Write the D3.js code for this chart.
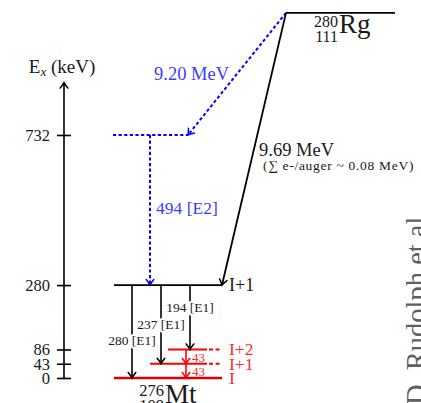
<!DOCTYPE html>
<html>
<head>
<meta charset="utf-8">
<script src="https://cdn.jsdelivr.net/npm/d3@7"></script>
<style>
body { margin: 0; background: #fff; }
text { font-family: "Liberation Serif", "Times New Roman", serif; }
</style>
</head>
<body>
<div id="chart"></div>
<script>
/* 280Rg -> 276Mt alpha decay level scheme */

// Energy axis ticks (keV)
var tickValues = [0, 43, 86, 280, 732];

// Levels in 276Mt (keV)
var blackLevelE = 280;
var blackLevelLabel = "I+1";
var bandLevelE = [86, 43, 0];
var bandLevelLabels = ["I+2", "I+1", "I"];
var e2LevelE = 732;

// Gamma transitions out of the 280 keV level
var gammaFrom = [280, 280, 280];
var gammaTo = [86, 43, 0];
var gammaLabels = ["194 [E1]", "237 [E1]", "280 [E1]"];

// 43 keV cascade inside the band
var cascadeFrom = [86, 43];
var cascadeTo = [43, 0];
var cascadeLabels = ["43", "43"];

// Alpha decays from the parent
var alphaMain = "9.69 MeV";
var alphaMainNote = "(\u2211 e-/auger ~ 0.08 MeV)";
var alphaSide = "9.20 MeV";
var e2Label = "494 [E2]";
var parentE = 1100; // parent ground state, placed schematically above 732

var W = 421, H = 403;
var svg = d3.select("#chart").append("svg")
    .attr("width", W).attr("height", H);

var y = d3.scaleLinear().domain([0, 732]).range([378, 135]);

// horizontal layout of the scheme
var axisX = 64,
    lvX0 = 114, lvX1 = 222,
    parX0 = 286, parX1 = 395,
    e2X0 = 113, e2X1 = 188, e2X = 150,
    gammaX = [190, 161, 132],
    bandX0 = [168, 150, 114], bandSolidEnd = 207,
    cascadeX = 186,
    labelX = 229;

var blue = "#0000ff", blueText = "#3c3cff", red = "#ff0000", redText = "#ff2a2a";

// arrow heads
var defs = svg.append("defs");
function marker(id, col) {
  defs.append("marker")
      .attr("id", id)
      .attr("viewBox", "-7 -5 9 10")
      .attr("refX", 0).attr("refY", 0)
      .attr("markerWidth", 9).attr("markerHeight", 10)
      .attr("markerUnits", "userSpaceOnUse")
      .attr("orient", "auto")
    .append("path")
      .attr("d", "M-5.5,-3.8 Q-2,-1 0,0 Q-2,1 -5.5,3.8")
      .attr("fill", "none")
      .attr("stroke", col)
      .attr("stroke-width", 1.5)
      .attr("stroke-linecap", "round");
}
marker("ak", "#000");
marker("ab", blue);
marker("ar", red);

// ---- energy axis
var axis = d3.axisLeft(y).tickValues(tickValues).tickSize(7).tickPadding(7);
var gAxis = svg.append("g")
    .attr("transform", "translate(" + axisX + ",0)")
    .call(axis);
gAxis.select(".domain").remove();
gAxis.selectAll(".tick line").attr("x1", 7).attr("stroke", "#000").attr("stroke-width", 1.6);
gAxis.selectAll(".tick text")
    .attr("font-family", "Liberation Serif, serif")
    .attr("font-size", 16.5)
    .attr("fill", "#1a1a1a");
gAxis.append("line")
    .attr("x1", 0).attr("x2", 0)
    .attr("y1", y(0)).attr("y2", y(890))
    .attr("stroke", "#000").attr("stroke-width", 1.6)
    .attr("marker-end", "url(#ak)");

var title = svg.append("text")
    .attr("x", axisX - 2).attr("y", 73)
    .attr("text-anchor", "middle")
    .attr("font-size", 19).attr("fill", "#1a1a1a");
title.append("tspan").text("E");
title.append("tspan").attr("font-size", 13).attr("font-style", "italic").attr("dy", 3).text("x");
title.append("tspan").attr("dy", -3).text(" (keV)");

// ---- parent level 280Rg
var yPar = y(parentE);
svg.append("line")
    .attr("x1", parX0).attr("x2", parX1)
    .attr("y1", yPar).attr("y2", yPar)
    .attr("stroke", "#000").attr("stroke-width", 1.8);
svg.append("text").attr("x", parX0 + 52).attr("y", yPar + 14)
    .attr("text-anchor", "end").attr("font-size", 16).attr("fill", "#1a1a1a").text("280");
svg.append("text").attr("x", parX0 + 52).attr("y", yPar + 29)
    .attr("text-anchor", "end").attr("font-size", 16).attr("fill", "#1a1a1a").text("111");
svg.append("text").attr("x", parX0 + 53).attr("y", yPar + 20)
    .attr("font-size", 27).attr("fill", "#1a1a1a").text("Rg");

// ---- alpha to the 732 keV level (blue, dotted)
var dots = "3.2,2.4";
svg.append("line")
    .attr("x1", parX0).attr("y1", yPar)
    .attr("x2", e2X1).attr("y2", y(e2LevelE))
    .attr("stroke", blue).attr("stroke-width", 2)
    .attr("stroke-dasharray", dots)
    .attr("marker-end", "url(#ab)");
svg.append("line")
    .attr("x1", e2X0).attr("x2", e2X1)
    .attr("y1", y(e2LevelE)).attr("y2", y(e2LevelE))
    .attr("stroke", blue).attr("stroke-width", 2)
    .attr("stroke-dasharray", dots);
svg.append("line")
    .attr("x1", e2X).attr("x2", e2X)
    .attr("y1", y(e2LevelE)).attr("y2", y(blackLevelE))
    .attr("stroke", blue).attr("stroke-width", 2)
    .attr("stroke-dasharray", dots)
    .attr("marker-end", "url(#ab)");
svg.append("text").attr("x", 154).attr("y", 80)
    .attr("font-size", 18.5).attr("fill", blueText).text(alphaSide);
svg.append("text").attr("x", e2X + 6).attr("y", 214)
    .attr("font-size", 17.5).attr("fill", blueText).text(e2Label);

// ---- main alpha to the 280 keV level
svg.append("line")
    .attr("x1", parX0).attr("y1", yPar)
    .attr("x2", lvX1).attr("y2", y(blackLevelE))
    .attr("stroke", "#000").attr("stroke-width", 1.8)
    .attr("marker-end", "url(#ak)");
svg.append("text").attr("x", 259).attr("y", 156)
    .attr("font-size", 18.5).attr("fill", "#1a1a1a").text(alphaMain);
svg.append("text").attr("x", 263).attr("y", 170)
    .attr("font-size", 13.5).attr("letter-spacing", 0.7).attr("fill", "#1a1a1a").text(alphaMainNote);

// ---- 280 keV level
svg.append("line")
    .attr("x1", lvX0).attr("x2", lvX1)
    .attr("y1", y(blackLevelE)).attr("y2", y(blackLevelE))
    .attr("stroke", "#000").attr("stroke-width", 1.8);
svg.append("text").attr("x", labelX).attr("y", y(blackLevelE)).attr("dy", "0.33em")
    .attr("font-size", 18).attr("fill", "#1a1a1a").text(blackLevelLabel);

// ---- band levels (red)
var band = svg.append("g").selectAll("g")
    .data(bandLevelE).enter().append("g");
band.append("line")
    .attr("x1", function(d, i) { return bandX0[i]; })
    .attr("x2", function(d) { return d === 0 ? lvX1 : bandSolidEnd; })
    .attr("y1", function(d) { return y(d); })
    .attr("y2", function(d) { return y(d); })
    .attr("stroke", function(d) { return d === 0 ? "#e00000" : red; })
    .attr("stroke-width", function(d) { return d === 0 ? 2.6 : 2; });
band.filter(function(d) { return d !== 0; }).append("line")
    .attr("x1", bandSolidEnd + 2).attr("x2", lvX1)
    .attr("y1", function(d) { return y(d); })
    .attr("y2", function(d) { return y(d); })
    .attr("stroke", red).attr("stroke-width", 2)
    .attr("stroke-dasharray", "4,2.6");
band.append("text")
    .attr("x", labelX).attr("y", function(d) { return y(d); }).attr("dy", "0.33em")
    .attr("font-size", 17.5).attr("fill", redText)
    .text(function(d, i) { return bandLevelLabels[i]; });

// ---- gamma transitions
var gam = svg.append("g").selectAll("g")
    .data(gammaLabels).enter().append("g");
gam.append("line")
    .attr("x1", function(d, i) { return gammaX[i]; })
    .attr("x2", function(d, i) { return gammaX[i]; })
    .attr("y1", function(d, i) { return y(gammaFrom[i]); })
    .attr("y2", function(d, i) { return y(gammaTo[i]); })
    .attr("stroke", "#000").attr("stroke-width", 1.6)
    .attr("marker-end", "url(#ak)");
gam.append("text")
    .attr("x", function(d, i) { return gammaX[i]; })
    .attr("y", function(d, i) { return y(gammaFrom[i]) + 27 + i * 16.5; })
    .attr("text-anchor", "middle")
    .attr("font-size", 13.5).attr("fill", "#1a1a1a")
    .attr("stroke", "#fff").attr("stroke-width", 4).attr("paint-order", "stroke")
    .attr("stroke-linejoin", "round")
    .text(function(d) { return d; });

// ---- 43 keV cascade
var cas = svg.append("g").selectAll("g")
    .data(cascadeLabels).enter().append("g");
cas.append("line")
    .attr("x1", cascadeX).attr("x2", cascadeX)
    .attr("y1", function(d, i) { return y(cascadeFrom[i]); })
    .attr("y2", function(d, i) { return y(cascadeTo[i]); })
    .attr("stroke", red).attr("stroke-width", 1.6)
    .attr("marker-end", "url(#ar)");
cas.append("text")
    .attr("x", cascadeX + 6)
    .attr("y", function(d, i) { return y(cascadeTo[i]) - 2; })
    .attr("font-size", 13).attr("fill", redText)
    .text(function(d) { return d; });

// ---- daughter label 276Mt
var y0 = y(0);
svg.append("text").attr("x", 164).attr("y", y0 + 18)
    .attr("text-anchor", "end").attr("font-size", 16.5).attr("fill", "#1a1a1a").text("276");
svg.append("text").attr("x", 164).attr("y", y0 + 33)
    .attr("text-anchor", "end").attr("font-size", 16.5).attr("fill", "#1a1a1a").text("109");
svg.append("text").attr("x", 165).attr("y", y0 + 25)
    .attr("font-size", 27).attr("fill", "#1a1a1a").text("Mt");

// ---- credit, rotated along the right edge
svg.append("text")
    .attr("transform", "translate(426,405) rotate(-90)")
    .attr("font-family", "Open Sans, sans-serif")
    .attr("font-size", 28.5).attr("fill", "#5f5f5f")
    .text("D. Rudolph et al");
</script>
</body>
</html>
